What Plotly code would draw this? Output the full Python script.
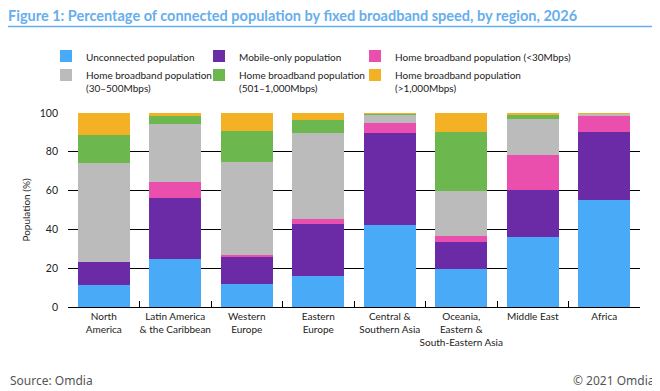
import plotly.graph_objects as go

regions = ["North<br>America", "Latin America<br>& the Caribbean", "Western<br>Europe",
           "Eastern<br>Europe", "Central &<br>Southern Asia",
           "Oceania,<br>Eastern &<br>South-Eastern Asia", "Middle East", "Africa"]

unconnected = [11.5, 24.9, 12.0, 16.2, 42.4, 19.8, 36.3, 55.3]
mobile_only = [11.9, 31.5, 13.9, 26.8, 47.5, 13.9, 24.2, 35.1]
hb_lt30 = [0.0, 8.2, 0.7, 2.5, 5.1, 3.1, 18.0, 8.2]
hb_30_500 = [51.0, 29.9, 48.3, 44.4, 4.0, 23.2, 18.6, 1.1]
hb_501_1000 = [14.4, 4.1, 16.0, 6.7, 0.7, 30.4, 2.0, 0.1]
hb_gt1000 = [11.2, 1.4, 9.1, 3.4, 0.3, 9.6, 0.9, 0.3]

colors = {
    "u": "#49ABF7", "m": "#6B2BA6", "p": "#EB4FAD",
    "g": "#BBBBBB", "gr": "#6DB74F", "o": "#F4B125",
}

FONT = "Lato, Noto Sans, sans-serif"
TITLE_COLOR = "#66AEEE"

# figure is placed at (8, 8) in the page by the default body margin
W, H = 652, 383
PL, PR, PT, PB = 60, 20, 105, 84
PW = W - PL - PR
PH = H - PT - PB


def px(x):
    return (x - PL) / PW


def py(y):
    return (H - PB - y) / PH


fig = go.Figure()
stack = [
    ("Unconnected population", unconnected, colors["u"], "legend"),
    ("Mobile-only population", mobile_only, colors["m"], "legend2"),
    ("Home broadband population (<30Mbps)", hb_lt30, colors["p"], "legend3"),
    ("Home broadband population<br>(30–500Mbps)", hb_30_500, colors["g"], "legend"),
    ("Home broadband population<br>(501–1,000Mbps)", hb_501_1000, colors["gr"], "legend2"),
    ("Home broadband population<br>(>1,000Mbps)", hb_gt1000, colors["o"], "legend3"),
]
for name, vals, col, lg in stack:
    fig.add_trace(go.Bar(x=regions, y=vals, name=name, legend=lg,
                         marker=dict(color=col, line=dict(width=0)),
                         hovertemplate="%{y}%<extra></extra>"))

legend_common = dict(orientation="v", xanchor="left", yanchor="top", y=py(35),
                     valign="top", bgcolor="rgba(0,0,0,0)", tracegroupgap=0,
                     font=dict(size=10, color="#222", family=FONT), traceorder="normal",
                     itemclick=False)

fig.update_layout(
    width=W, height=H,
    barmode="stack", bargap=0.27,
    plot_bgcolor="white", paper_bgcolor="white",
    margin=dict(l=PL, r=PR, t=PT, b=PB, autoexpand=False),
    font=dict(family=FONT, size=10, color="#222"),
    title=dict(text="<b>Figure 1: Percentage of connected population by fixed broadband speed, by region, 2026</b>",
               x=0.0, xanchor="left", y=(H - 7.5) / H, yanchor="middle",
               font=dict(size=14.5, color=TITLE_COLOR, family=FONT)),
    legend=dict(x=px(38), **legend_common),
    legend2=dict(x=px(191), **legend_common),
    legend3=dict(x=px(347), **legend_common),
    showlegend=True,
)
fig.update_yaxes(range=[0, 100], tickvals=[0, 20, 40, 60, 80, 100], showgrid=True,
                 gridcolor="black", gridwidth=1, showline=False, zeroline=False,
                 ticks="", ticklabelstandoff=9, tickfont=dict(size=10.5),
                 title=dict(text="Population (%)", standoff=7, font=dict(size=10)))
fig.update_xaxes(type="category", showline=True, linecolor="black", linewidth=1,
                 ticks="inside", tickson="boundaries", ticklen=6, tickcolor="black",
                 tickangle=0, tickfont=dict(size=10))

fig.add_shape(type="line", xref="paper", yref="paper", x0=px(-2), x1=px(650),
              y0=py(18.5), y1=py(18.5), line=dict(color=TITLE_COLOR, width=1.5))
fig.add_annotation(text="Source: Omdia", xref="paper", yref="paper", x=px(0), y=py(372),
                   xanchor="left", yanchor="middle", showarrow=False,
                   font=dict(size=12, color="#555", family="Noto Sans, sans-serif"))
fig.add_annotation(text="© 2021 Omdia", xref="paper", yref="paper", x=px(648), y=py(372),
                   xanchor="right", yanchor="middle", showarrow=False,
                   font=dict(size=12, color="#555", family="Noto Sans, sans-serif"))

fig.write_html("out.html")
